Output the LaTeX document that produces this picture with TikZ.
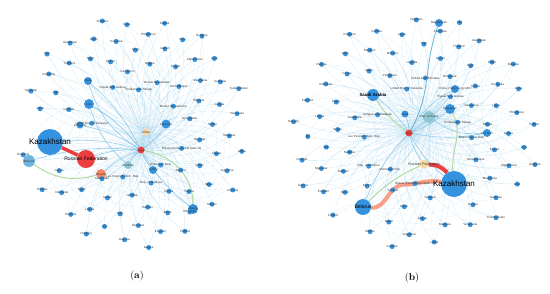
\documentclass[tikz,border=0pt]{standalone}
\usepackage{fontspec}
\newfontfamily\lblfont{Liberation Sans}
\usepackage{tikz}
\usetikzlibrary{positioning,calc,backgrounds}

\definecolor{nodeblue}{RGB}{52,146,222}
\definecolor{lightnode}{RGB}{110,180,225}
\definecolor{edgeblue}{RGB}{110,185,225}
\definecolor{hubred}{RGB}{236,62,62}
\definecolor{hubpeach}{RGB}{250,214,160}
\definecolor{hubsalmon}{RGB}{246,135,105}
\definecolor{hubteal}{RGB}{140,198,210}
\definecolor{edgegreen}{RGB}{176,218,160}
\definecolor{edgeteal}{RGB}{110,182,208}

% shared country list for the outer nodes
\def\ctrylist{Antigua and Barbuda, Trinidad and Tobago, Dominican Rep., United Rep. of Tanzania,
  Bosnia Herzegovina, Lao People's Dem. Rep., Papua New Guinea, Bolivia (Plurinational State of),
  {China, Macao SAR}, Brunei Darussalam, Rep. of Moldova, United Arab Emirates, Kyrgyzstan,
  Cambodia, Cameroon, Zambia, Zimbabwe, Mozambique, Namibia, Botswana, Senegal, Ghana, Nigeria,
  Kenya, Uganda, Ethiopia, Sudan, Yemen, Oman, Qatar, Kuwait, Bahrain, Jordan, Serbia, Egypt,
  Libya, Tunisia, Morocco, Mauritania, Mali, Niger, Angola, Congo, Gabon, Benin, Togo, Guinea,
  Liberia, Sri Lanka, Nepal, Pakistan, Afghanistan, Myanmar, Thailand, Malaysia, Indonesia,
  Philippines, Mongolia, Japan, Australia, Fiji, Brazil, Argentina, Chile, Peru, Ecuador,
  Colombia, Venezuela, Panama, Cuba, Mexico, Canada, USA, Georgia, Azerbaijan, Latvia, Estonia,
  Poland, Finland, Tajikistan, Turkmenistan, Hungary, Slovakia, Czechia, Romania, Bulgaria,
  Greece, Iraq}
\def\Nn{88}

\begin{document}
\begin{tikzpicture}[
  x=1pt, y=-1pt,
  dot/.style={circle, fill=nodeblue, inner sep=0pt, minimum size=5pt},
  hub/.style={circle, fill=nodeblue, inner sep=0pt},
  lbl/.style={font=\lblfont\fontsize{3}{3.5}\selectfont, text=black!80, inner sep=0pt},
  biglbl/.style={font=\lblfont\fontsize{8}{9}\selectfont, text=black, inner sep=0pt},
  midlbl/.style={font=\lblfont\fontsize{5}{6}\selectfont, text=black, inner sep=0pt},
  edge/.style={draw=edgeblue, line width=0.3pt, opacity=0.3},
  faint/.style={draw=edgeblue, line width=0.3pt, opacity=0.18},
  strong/.style={draw=edgeblue, line width=0.6pt, opacity=0.7},
  caption/.style={font=\fontsize{10}{12}\selectfont, inner sep=0pt}
]
\useasboundingbox (0,0) rectangle (550,293);

% ---------- panel (a) ----------
% hubs
\node[hub, minimum size=26pt] (akaz) at (50,142) {};
\node[hub, fill=hubred, minimum size=18pt] (arus) at (86,159) {};
\node[hub, fill=lightnode, minimum size=12pt] (abel) at (29,161) {};
\node[hub, fill=hubsalmon, minimum size=10pt] (aukr) at (101,174) {};
\node[hub, fill=hubred, minimum size=7pt] (ared) at (141,150) {};
\node[hub, fill=hubpeach, minimum size=7pt] (achn) at (146,132) {};
\node[hub, fill=hubteal, minimum size=8pt] (aarm) at (128,165) {};
\node[hub, minimum size=10pt] (airn) at (89,104) {};
\node[hub, minimum size=8pt] (asyr) at (88,81) {};
\node[hub, minimum size=8pt] (atur) at (153,170) {};
\node[hub, minimum size=10pt] (aalg) at (193,209) {};
\node[hub, minimum size=7pt] (alit) at (80,125) {};
\node[hub, minimum size=9pt] (aleb) at (166,124) {};

% outer nodes on a sunflower spiral, with their links
\foreach \nm [count=\i] in \ctrylist {
  \pgfmathsetmacro\ang{\i*137.508}
  \pgfmathsetmacro\rad{sqrt((\i+10)/(\Nn+10))}
  \pgfmathsetmacro\px{135+116*\rad*cos(\ang)}
  \pgfmathsetmacro\py{131+118*\rad*sin(\ang)}
  \pgfmathsetmacro\dk{min(veclen(\px-50,\py-142),veclen(\px-86,\py-159)+4,
    veclen(\px-89,\py-104)+13,veclen(\px-88,\py-81)+13)}
  \pgfmathtruncatemacro\k{mod(\i,4)}
  \ifcase\k \def\thub{akaz}\or \def\thub{airn}\or \def\thub{aleb}\or \def\thub{aalg}\fi
  \ifdim\dk pt>27pt
    \node[dot] (a\i) at (\px,\py) {};
    \node[lbl] (a\i l) at (a\i) {\nm};
    \begin{scope}[on background layer]
      \draw[edge] (a\i) to[bend left=25] (ared);
      \draw[edge] (a\i) to[bend right=20] (achn);
      \draw[faint] (a\i) to[bend left=30] (\thub);
    \end{scope}
  \fi
}

% connectors between hubs
\begin{scope}[on background layer]
\foreach \h in {akaz,arus,airn,asyr,alit,aleb,atur,aalg,aarm,aukr,abel} {
  \draw[strong] (\h) to[bend left=10] (ared);
  \draw[edge] (\h) to[bend right=10] (achn);
}
\draw[strong] (airn) to[bend right=15] (aarm);
\draw[strong] (asyr) to[bend right=20] (ared);
\draw[edgegreen, line width=1pt] (ared) to[out=-10, in=90] (aalg);
\draw[edgegreen, line width=1pt] (abel) to[bend right=25] (aukr);
\draw[hubred, line width=3.5pt] (akaz) -- (arus);
\end{scope}

\node[biglbl] (akazl) at (akaz) {Kazakhstan};
\node[midlbl] (arusl) at (arus) {Russian Federation};
\node[lbl] (abell) at (abel) {Belarus};
\node[lbl] (aukrl) at (aukr) {Ukraine};
\node[lbl] (aredl) at (ared) {Israel};
\node[lbl] (achnl) at (achn) {China};
\node[lbl] (aarml) at (aarm) {Armenia};
\node[lbl] (airnl) at (airn) {Iran};
\node[lbl] (asyrl) at (asyr) {Syria};
\node[lbl] (aturl) at (atur) {Turkey};
\node[lbl] (aalgl) at (aalg) {Algeria};
\node[lbl] (alitl) at (alit) {Lithuania};
\node[lbl] (alebl) at (aleb) {Lebanon};

% ---------- panel (b) ----------
% hubs
\node[hub, minimum size=26pt] (bkaz) at (454,184) {};
\node[hub, minimum size=16pt] (bbel) at (363,207) {};
\node[hub, fill=hubpeach, minimum size=9pt] (brus) at (424,164) {};
\node[hub, fill=hubred, minimum size=7pt] (bred) at (409,133) {};
\node[hub, minimum size=12pt] (bsau) at (373,95) {};
\node[hub, fill=hubteal, minimum size=12pt] (bkor) at (429,117) {};
\node[hub, minimum size=10pt] (bsin) at (450,109) {};
\node[hub, minimum size=8pt] (bhk) at (455,89) {};
\node[hub, minimum size=8pt] (bban) at (439,23) {};
\node[hub, minimum size=8pt] (bvn) at (487,133) {};
\node[hub, minimum size=7pt] (bind) at (405,114) {};

% outer nodes on a sunflower spiral, with their links
\foreach \nm [count=\i] in \ctrylist {
  \pgfmathsetmacro\ang{\i*137.508+70}
  \pgfmathsetmacro\rad{sqrt((\i+10)/(\Nn+10))}
  \pgfmathsetmacro\px{415+126*\rad*cos(\ang)}
  \pgfmathsetmacro\py{133+118*\rad*sin(\ang)}
  \pgfmathsetmacro\dk{min(veclen(\px-454,\py-184),veclen(\px-363,\py-207)+6,veclen(\px-373,\py-95)+8)}
  \pgfmathtruncatemacro\k{mod(\i,4)}
  \ifcase\k \def\thub{bkaz}\or \def\thub{bsau}\or \def\thub{bsin}\or \def\thub{bbel}\fi
  \ifdim\dk pt>27pt
    \node[dot] (b\i) at (\px,\py) {};
    \node[lbl] (b\i l) at (b\i) {\nm};
    \begin{scope}[on background layer]
      \draw[edge] (b\i) to[bend left=25] (bred);
      \draw[edge] (b\i) to[bend right=20] (bkor);
      \draw[faint] (b\i) to[bend left=30] (\thub);
    \end{scope}
  \fi
}

% connectors between hubs
\begin{scope}[on background layer]
\foreach \h in {bkaz,bbel,brus,bsau,bsin,bhk,bvn,bind} {
  \draw[strong] (\h) to[bend left=10] (bred);
  \draw[edge] (\h) to[bend right=10] (bkor);
}
\draw[edgeteal, line width=0.8pt] (bban) to[out=-110, in=60] (bred);
\draw[strong] (bhk) to[bend right=15] (bred);
\draw[strong] (bvn) to[bend left=20] (bkor);
\draw[edgegreen, line width=1pt] (bsau) to[bend right=10] (bred);
\draw[edgegreen, line width=1pt] (bkaz) to[out=95, in=-60] (bsin);
\draw[edgegreen, line width=1pt] (brus) to[bend right=10] (bbel);
\draw[hubred, line width=4pt] (brus) to[bend left=25] (bkaz);
\draw[hubsalmon!80!white, line width=4pt] (bbel) to[out=-5, in=180] ($(bbel)!0.45!(bkaz)+(0,-12)$)
  to[out=0, in=170] (bkaz);
\end{scope}

\node[biglbl] (bkazl) at (bkaz) {Kazakhstan};
\node[midlbl] (bbell) at (bbel) {Belarus};
\node[lbl, font=\lblfont\fontsize{3.6}{4}\selectfont] (brusl) at (brus) {Russian Federation};
\node[lbl] (bredl) at (bred) {Israel};
\node[midlbl, font=\lblfont\bfseries\fontsize{4.4}{5}\selectfont] (bsaul) at (bsau) {Saudi Arabia};
\node[lbl] (bkorl) at (bkor) {Rep. of Korea};
\node[lbl] (bsinl) at (bsin) {Singapore};
\node[lbl] (bhkl) at (bhk) {China, Hong Kong SAR};
\node[lbl] (bbanl) at (bban) {Bangladesh};
\node[lbl] (bvnl) at (bvn) {Viet Nam};
\node[lbl] (bindl) at (bind) {India};

% captions
\node[caption] (capa) at (137,276) {(\textbf{a})};
\node[caption] (capb) at (412,278) {(\textbf{b})};
\end{tikzpicture}
\end{document}
